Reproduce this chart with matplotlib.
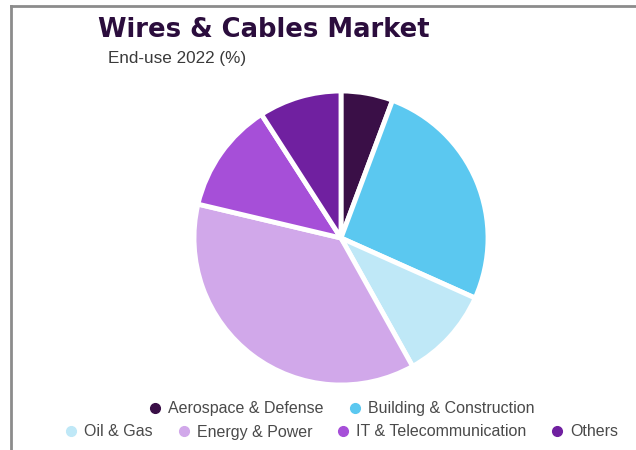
import matplotlib
matplotlib.use("Agg")
import matplotlib.pyplot as plt
from matplotlib.lines import Line2D

# End-use share of the wires & cables market, 2022 (%)
categories = ["Aerospace & Defense", "Building & Construction", "Oil & Gas",
              "Energy & Power", "IT & Telecommunication", "Others"]
shares = [5.7, 26.0, 10.2, 36.8, 12.2, 9.1]
colors = ["#3a0f47", "#5bc8f0", "#bfe8f7", "#d1a8ea", "#a64fd8", "#7020a0"]

W, H = 636, 450
fig = plt.figure(figsize=(W / 100, H / 100), dpi=100)
fig.patch.set_facecolor("white")

# frame lines along the left and top edges
fig.add_artist(Line2D([11 / W, 11 / W], [0, 1 - 6 / H], transform=fig.transFigure,
                      color="#8c8c8c", lw=2))
fig.add_artist(Line2D([11 / W, 1], [1 - 6 / H, 1 - 6 / H], transform=fig.transFigure,
                      color="#8c8c8c", lw=2))

# pie axes: centre (341, 238) px, radius 147 px
cx, cy, r = 341, 238, 147
ax = fig.add_axes([(cx - r) / W, (H - cy - r) / H, 2 * r / W, 2 * r / H])
ax.pie(shares, colors=colors, startangle=90, counterclock=False, radius=1,
       wedgeprops=dict(edgecolor="white", linewidth=3.5))
ax.set_xlim(-1, 1)
ax.set_ylim(-1, 1)
ax.set_aspect("equal")
ax.axis("off")

fig.text(98 / W, 1 - 37 / H, "Wires & Cables Market", fontsize=18.6, fontweight="heavy",
         color="#2b0d3d", family=["DejaVu Sans"], va="baseline", ha="left")
fig.text(108 / W, 1 - 63 / H, "End-use 2022 (%)", fontsize=12.3, color="#3a3a3a",
         family=["Liberation Sans", "DejaVu Sans"], va="baseline", ha="left")

def handles(idx):
    return [Line2D([], [], marker="o", linestyle="none", markersize=7,
                   markerfacecolor=colors[i], markeredgecolor=colors[i]) for i in idx]

legend_font = dict(family=["Liberation Sans", "DejaVu Sans"], size=11.5)
rows = [([0, 1], 409), ([2, 3, 4, 5], 432)]
for idx, ypx in rows:
    leg = fig.legend(handles(idx), [categories[i] for i in idx], loc="center",
                     bbox_to_anchor=(342 / W, 1 - ypx / H), ncol=len(idx), frameon=False,
                     prop=legend_font, handlelength=0.7, handletextpad=0.45,
                     columnspacing=1.6, borderpad=0)
    for t in leg.get_texts():
        t.set_color("#4a4a4a")

fig.savefig("out.png", dpi=100, facecolor="white")
